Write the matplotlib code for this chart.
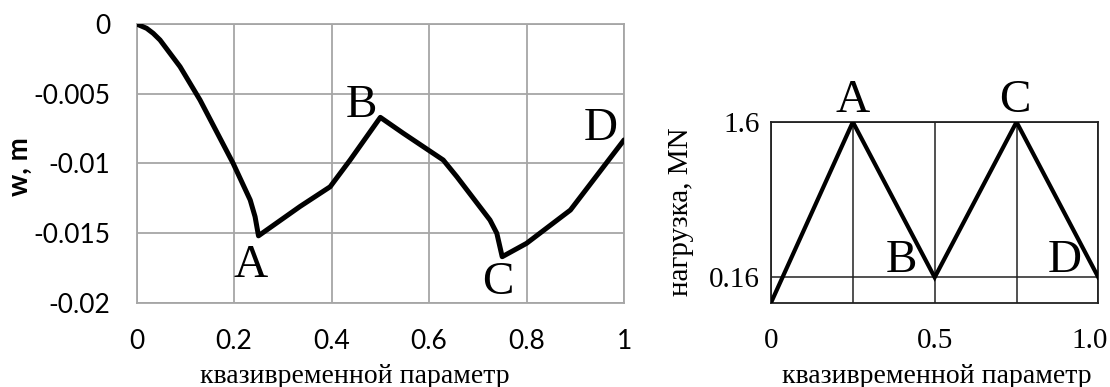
import matplotlib
matplotlib.use("Agg")
import matplotlib.pyplot as plt

# ---- data: left panel (deflection) ----
t_defl = [0, 0.0205, 0.034, 0.048, 0.089, 0.13, 0.198, 0.233, 0.243, 0.25,
          0.335, 0.397, 0.438, 0.5, 0.547, 0.588, 0.629, 0.657, 0.725, 0.739,
          0.75, 0.80, 0.89, 0.958, 1.0]
w_defl = [0, -0.00031, -0.00067, -0.00115, -0.00306, -0.00545, -0.0100, -0.01263,
          -0.01383, -0.0152, -0.0131, -0.01168, -0.00976, -0.0067, -0.00784,
          -0.0088, -0.00976, -0.01096, -0.01407, -0.01502, -0.0167, -0.01574,
          -0.01335, -0.01024, -0.00832]
left_xticks = [0, 0.2, 0.4, 0.6, 0.8, 1.0]
left_xlabels = ["0", "0.2", "0.4", "0.6", "0.8", "1"]
left_yticks = [0, -0.005, -0.01, -0.015, -0.02]
left_ylabels = ["0", "-0.005", "-0.01", "-0.015", "-0.02"]
left_pts = ["A", "B", "C", "D"]
left_pt_x = [0.2346, 0.4617, 0.7414, 0.952]
left_pt_y = [-0.01816, -0.00665, -0.01938, -0.00832]

# ---- data: right panel (load) ----
t_load = [0, 0.25, 0.5, 0.75, 1.0]
p_load = [-0.075, 1.6, 0.16, 1.6, 0.16]
right_xticks = [0, 0.25, 0.5, 0.75, 1.0]
right_xlabels = ["0", "", "0.5", "", "1.0"]
right_yticks = [0.16, 1.6]
right_ylabels = ["0.16", "1.6"]
right_pts = ["A", "B", "C", "D"]
right_pt_x = [0.2505, 0.399, 0.7455, 0.898]
right_pt_y = [1.6955, 0.212, 1.6955, 0.209]

xlabel_text = "квазивременной параметр"

fig = plt.figure(figsize=(11.1, 3.87), dpi=100)
serif = "Liberation Serif"
sans = "Lato"

# Left panel
ax1 = fig.add_axes([0.1231, 0.2178, 0.4391, 0.7202])
ax1.plot(t_defl, w_defl, color="black", lw=3.6, solid_joinstyle="round",
         solid_capstyle="round", zorder=3)
ax1.set_xlim(0, 1)
ax1.set_ylim(-0.02, 0)
ax1.set_xticks(left_xticks)
ax1.set_xticklabels(left_xlabels, fontfamily=sans, fontsize=19)
ax1.set_yticks(left_yticks)
ax1.set_yticklabels(left_ylabels, fontfamily=sans, fontsize=19)
ax1.tick_params(axis="both", length=0)
ax1.tick_params(axis="x", pad=19)
ax1.tick_params(axis="y", pad=19)
ax1.grid(True, color="#a6a6a6", lw=1.3)
for s in ax1.spines.values():
    s.set_color("#a6a6a6")
    s.set_linewidth(1.3)
ax1.set_xlabel(xlabel_text, fontfamily=serif, fontsize=20, va="top")
ax1.xaxis.set_label_coords(0.448, -0.22)
ax1.set_ylabel("w, m", fontfamily=sans, fontsize=20, fontweight="bold",
               va="center")
ax1.yaxis.set_label_coords(-0.2395, 0.487)
for lab, x, y in zip(left_pts, left_pt_x, left_pt_y):
    ax1.text(x, y, lab, fontfamily=serif, fontsize=34, ha="center",
             va="baseline", clip_on=False, zorder=4)

# Right panel
ax2 = fig.add_axes([0.6946, 0.2178, 0.2949, 0.4669])
ax2.plot(t_load, p_load, color="black", lw=3.0, solid_joinstyle="miter", zorder=3)
ax2.set_xlim(0, 1.0)
ax2.set_ylim(-0.075, 1.6)
ax2.set_xticks(right_xticks)
# last label drawn separately, nudged left so it stays inside the figure
ax2.set_xticklabels(right_xlabels[:-1] + [""], fontfamily=serif, fontsize=21)
ax2.annotate(right_xlabels[-1], xy=(right_xticks[-1], 0),
             xycoords=("data", "axes fraction"), xytext=(-6, -18),
             textcoords="offset points", ha="center", va="top",
             fontfamily=serif, fontsize=21, annotation_clip=False)
ax2.set_yticks(right_yticks)
ax2.set_yticklabels(right_ylabels, fontfamily=serif, fontsize=21)
ax2.tick_params(axis="both", length=0)
ax2.tick_params(axis="x", pad=18)
ax2.tick_params(axis="y", pad=8)
ax2.grid(True, color="#222222", lw=1.1)
for s in ax2.spines.values():
    s.set_color("#222222")
    s.set_linewidth(1.3)
ax2.set_xlabel(xlabel_text, fontfamily=serif, fontsize=20, va="top")
ax2.xaxis.set_label_coords(0.506, -0.339)
ax2.set_ylabel("нагрузка, MN", fontfamily=serif, fontsize=21, va="center")
ax2.yaxis.set_label_coords(-0.275, 0.502)
for lab, x, y in zip(right_pts, right_pt_x, right_pt_y):
    ax2.text(x, y, lab, fontfamily=serif, fontsize=34, ha="center",
             va="baseline", clip_on=False, zorder=4)

fig.savefig("out.png", dpi=100)
